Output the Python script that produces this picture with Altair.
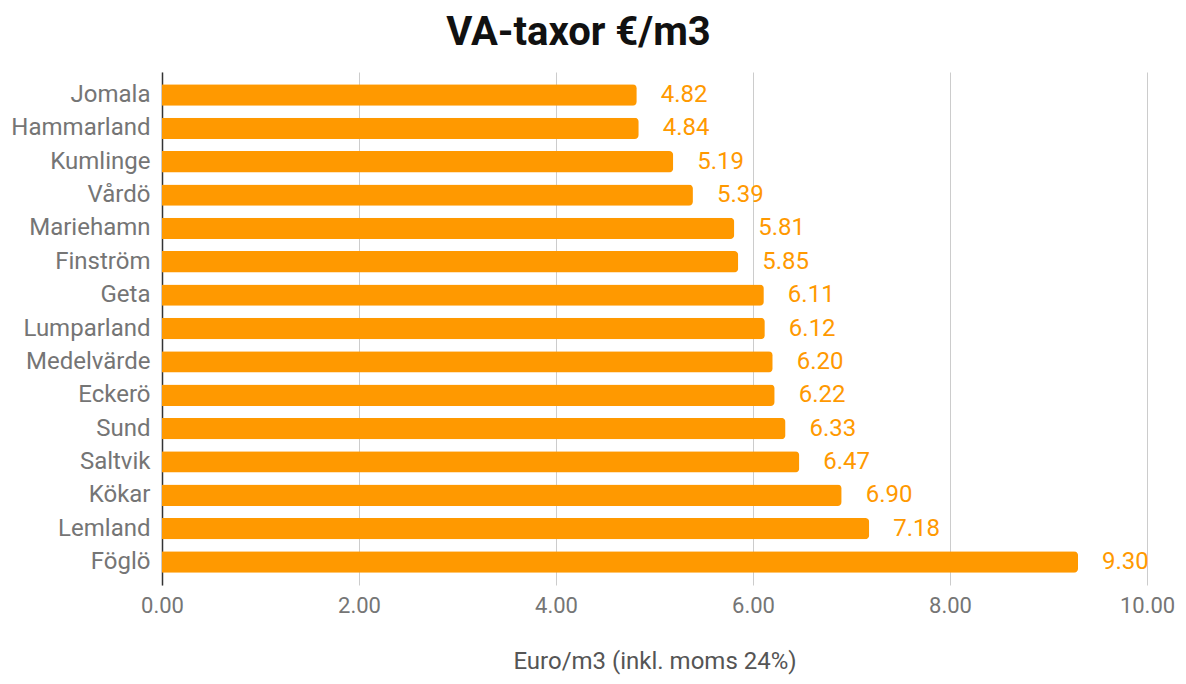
import altair as alt
import pandas as pd

kommuner = ["Jomala", "Hammarland", "Kumlinge", "Vårdö", "Mariehamn", "Finström", "Geta",
            "Lumparland", "Medelvärde", "Eckerö", "Sund", "Saltvik", "Kökar", "Lemland", "Föglö"]
taxor = [4.82, 4.84, 5.19, 5.39, 5.81, 5.85, 6.11, 6.12, 6.20, 6.22, 6.33, 6.47, 6.90, 7.18, 9.30]
x_ticks = [0, 2, 4, 6, 8, 10]

df = pd.DataFrame({"kommun": kommuner, "taxa": taxor})
df["label"] = df["taxa"].map(lambda v: f"{v:.2f}")

ORANGE = "#FF9900"
FONT = "Roboto"

y_enc = alt.Y("kommun:N", sort=kommuner, title=None,
              scale=alt.Scale(paddingInner=0.36, paddingOuter=0.37),
              axis=alt.Axis(labelFont=FONT, labelFontSize=24, labelColor="#757575",
                            labelPadding=12, ticks=False, domain=True,
                            domainColor="#333333", domainWidth=1.5, grid=False))
x_enc = alt.X("taxa:Q", title="Euro/m3 (inkl. moms 24%)",
              scale=alt.Scale(domain=[0, 10], nice=False),
              axis=alt.Axis(values=x_ticks, format=".2f", labelFont=FONT, labelFontSize=22,
                            labelColor="#757575", labelPadding=10, labelFlush=False,
                            ticks=False, domain=False,
                            grid=True, gridColor="#cccccc", gridWidth=1,
                            titleFont=FONT, titleFontSize=24, titleFontWeight="normal",
                            titleColor="#555555", titlePadding=33))

bars = alt.Chart(df).mark_bar(color=ORANGE, cornerRadiusEnd=4).encode(x=x_enc, y=y_enc)
labels = alt.Chart(df).mark_text(align="left", baseline="middle", dx=24, color=ORANGE,
                                 font=FONT, fontSize=24).encode(
    x=alt.X("taxa:Q"), y=alt.Y("kommun:N", sort=kommuner), text="label:N")

chart = (bars + labels).properties(
    width=985, height=513,
    background="white",
    title=alt.TitleParams("VA-taxor €/m3", font=FONT, fontSize=40, fontWeight="bold",
                          color="#111111", anchor="middle", dx=-76, offset=19),
    autosize=alt.AutoSizeParams(type="none"),
    padding={"left": 154, "top": 64, "right": 30, "bottom": 96},
).configure_view(stroke=None)

chart.save("out.html", embed_options={"renderer": "svg", "actions": False})
